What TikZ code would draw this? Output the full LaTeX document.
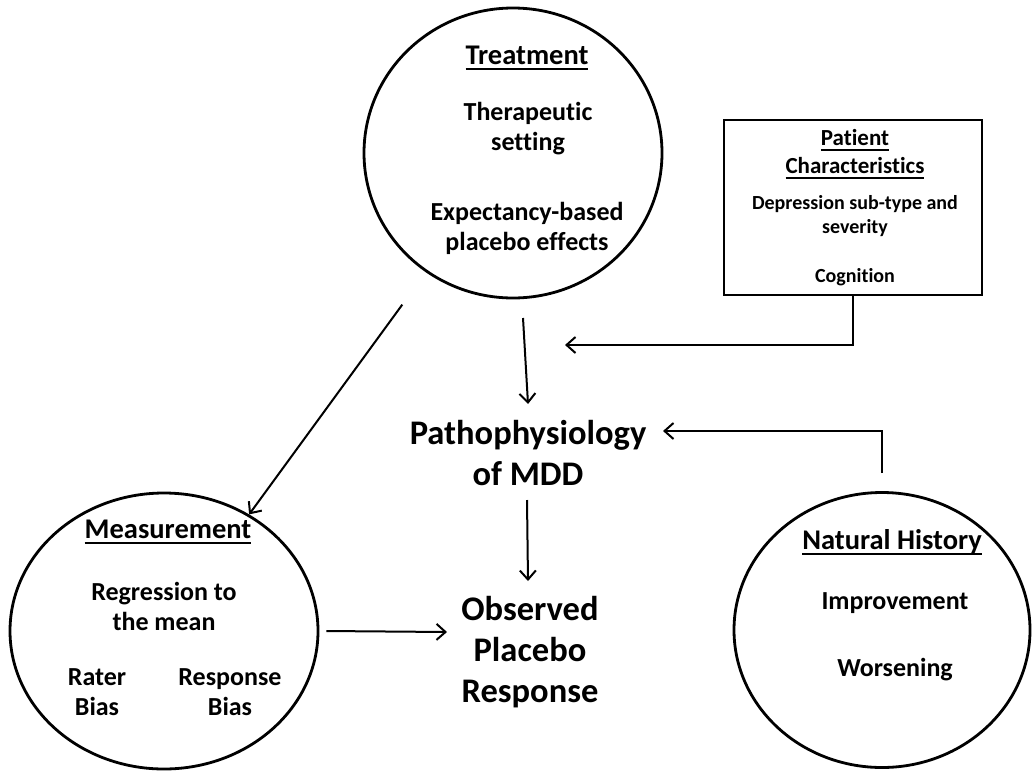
\documentclass[tikz,border=0pt]{standalone}
\usepackage{fontspec}
\setmainfont{Carlito}[Ligatures=NoCommon]
\usetikzlibrary{shapes.geometric,arrows.meta,calc}
\newsavebox{\hdrbox}
\newcommand{\hdr}[1]{\leavevmode\sbox{\hdrbox}{#1}\rlap{\vrule height -3.5pt depth 5.7pt width \wd\hdrbox}\usebox{\hdrbox}}
\tikzset{
  oval/.style={draw, ellipse, line width=2.8pt, inner sep=0pt},
  boxnode/.style={draw, rectangle, line width=2.8pt, inner sep=0pt},
  txt/.style={align=center, inner sep=0pt, font=\bfseries\fontsize{26}{30}\selectfont},
  title/.style={align=center, inner sep=0pt, font=\bfseries\fontsize{28.5}{30}\selectfont},
  ptitle/.style={align=center, inner sep=0pt, font=\bfseries\fontsize{23}{28}\selectfont},
  small/.style={align=center, inner sep=0pt, font=\bfseries\fontsize{20}{24}\selectfont},
  big/.style={align=center, inner sep=0pt, font=\bfseries\fontsize{34.5}{41}\selectfont},
  arr/.style={line width=2pt, -{Straight Barb[length=9pt,width=16pt,line width=2pt]}}
}
\begin{document}
\begin{tikzpicture}[x=1pt,y=-1pt]
\useasboundingbox (0,0) rectangle (1032,771);
% shapes
\node[oval, minimum width=298pt, minimum height=290pt] (treat) at (513,153) {};
\node[oval, minimum width=308pt, minimum height=276pt] (meas) at (164,631) {};
\node[oval, minimum width=296pt, minimum height=275pt] (nat) at (882,630) {};
\node[boxnode, minimum width=258pt, minimum height=175pt] (pat) at (853,207.5) {};
% treatment texts
\node[title] (treatT) at (527,58) {\hdr{Treatment}};
\node[txt] (treat1) at (528,129) {Therapeutic\\setting};
\node[txt] (treat2) at (527,228) {Expectancy-based\\placebo effects};
% patient texts
\node[ptitle] (patT) at (855,154) {\hdr{Patient}\\\hdr{Characteristics}};
\node[small] (pat1) at (855,216) {Depression sub-type and\\severity};
\node[small] (pat2) at (855,277) {Cognition};
% center texts
\node[big] (patho) at (528,453) {Pathophysiology\\of MDD};
\node[big] (obs) at (530,652) {Observed\\Placebo\\Response};
% measurement texts
\node[title] (measT) at (168,532) {\hdr{Measurement}};
\node[txt] (meas1) at (164,606) {Regression to\\the mean};
\node[txt] (meas2) at (97,692) {Rater\\Bias};
\node[txt] (meas3) at (230,692) {Response\\Bias};
% natural history texts
\node[title] (natT) at (892,542) {\hdr{Natural History}};
\node[txt] (nat1) at (895,603) {Improvement};
\node[txt] (nat2) at (895,670) {Worsening};
% free ends
\coordinate (patEnd) at (565,345);
\coordinate (natEnd) at (663,431);
\coordinate (treatStart) at (523,318);
\coordinate (pathoIn) at (528,404);
\coordinate (pathoOut) at (527,500);
\coordinate (obsIn) at (528,581);
\coordinate (measEnd) at (447,632);
% connectors
\draw[arr, shorten <=40pt] (treat) -- (meas);
\draw[arr] (treatStart) -- (pathoIn);
\draw[arr] (pat.south) |- (patEnd);
\draw[arr] ([yshift=18pt]nat.north) |- (natEnd);
\draw[arr] (pathoOut) -- (obsIn);
\draw[arr] ([xshift=7pt]meas.east) -- (measEnd);
\end{tikzpicture}
\end{document}
